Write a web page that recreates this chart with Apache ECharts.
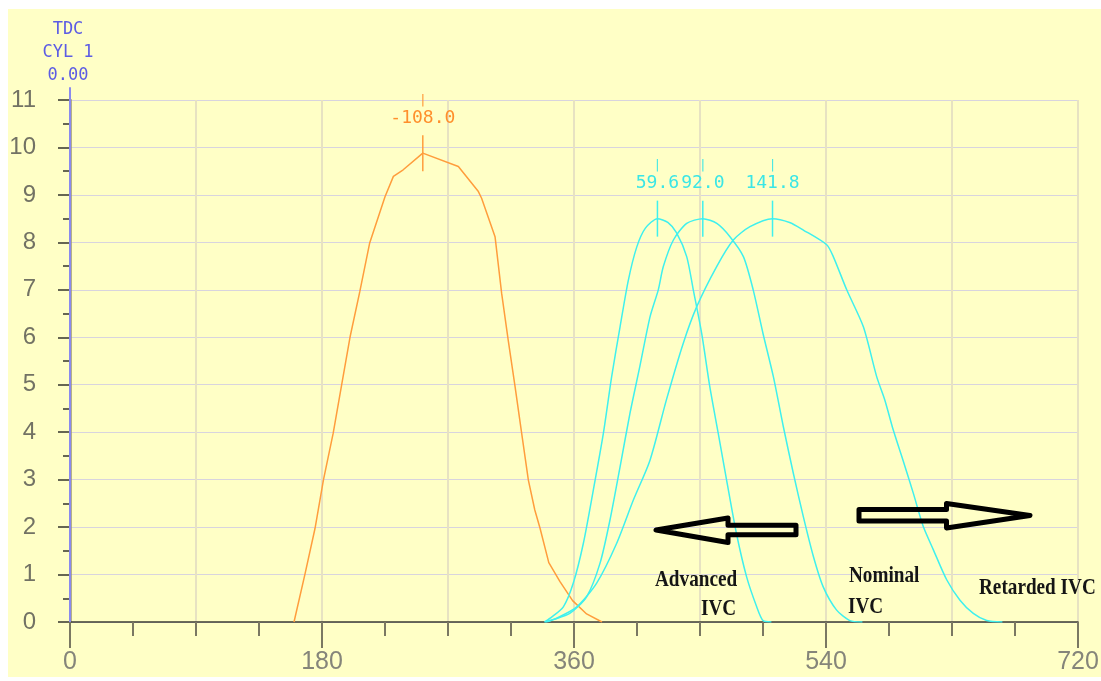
<!DOCTYPE html>
<html>
<head>
<meta charset="utf-8">
<title>Valve lift vs crank angle</title>
<script src="https://cdn.jsdelivr.net/npm/echarts@6/dist/echarts.min.js"></script>
<style>
  html, body { margin: 0; padding: 0; background: #ffffff; }
  #chart { position: absolute; left: 8px; top: 9px; width: 1093px; height: 668px; }
</style>
</head>
<body>
<div id="chart"></div>
<script>
// Crank angle (deg) vs valve lift (mm)
const exhaustLift = [
  [160, 0], [168, 1.03], [175, 1.97], [181, 2.99], [188, 3.98], [194, 4.99],
  [200, 6.0], [207, 6.96], [214, 7.98], [225, 8.96], [231, 9.39], [238, 9.53],
  [252, 9.88], [277.4, 9.6], [291.7, 9.07], [294, 8.93], [303.6, 8.12],
  [308.3, 6.93], [313, 5.94], [317.9, 4.96], [322.6, 3.98], [327.4, 2.99],
  [332, 2.36], [335.7, 1.98], [342, 1.25], [350, 0.85], [359, 0.45],
  [369, 0.17], [380, 0]
];
const advancedLift = [
  [339, 0], [343, 0.08], [352.4, 0.32], [359.5, 0.82], [366.7, 1.66],
  [373.8, 2.78], [381, 3.98], [386.9, 5.17], [392.9, 6.22], [398.8, 7.2],
  [404.8, 7.9], [411, 8.3], [419.6, 8.5], [427, 8.42], [433.3, 8.2],
  [440.5, 7.7], [445.2, 7.0], [451.2, 6.08], [457, 4.96], [463, 3.98],
  [469, 2.99], [476, 1.87], [483.3, 0.95], [490.5, 0.32], [495, 0.03], [501, 0]
];
const nominalLift = [
  [339, 0], [345, 0.05], [357, 0.18], [369, 0.53], [378.6, 1.24], [385.7, 2.15],
  [392.9, 3.27], [400, 4.4], [407, 5.38], [414.3, 6.43], [420.2, 7.0],
  [423.8, 7.49], [431, 8.05], [440.5, 8.4], [452, 8.5], [462, 8.4],
  [471.4, 8.12], [481, 7.7], [488, 7.0], [495, 6.08], [502.4, 5.17],
  [509.5, 4.12], [516.7, 3.13], [523.8, 2.22], [531, 1.38], [538, 0.74],
  [547.6, 0.25], [557, 0.03], [566, 0]
];
const retardedLift = [
  [340, 0], [347.6, 0.08], [362, 0.32], [376.2, 0.82], [390.5, 1.66],
  [402.4, 2.57], [414.3, 3.41], [426, 4.68], [438, 5.87], [447.6, 6.64],
  [461.9, 7.49], [473.8, 8.05], [485.7, 8.33], [501.8, 8.5], [514, 8.42],
  [523.8, 8.26], [540.5, 7.95], [545.2, 7.7], [554.8, 7.0], [566.7, 6.22],
  [576.2, 5.17], [582, 4.68], [588, 4.05], [595, 3.41], [602.4, 2.71],
  [609.5, 2.01], [616.7, 1.52], [626.2, 0.89], [635.7, 0.46], [645.2, 0.18],
  [654.8, 0.03], [666, 0]
];

// Peak positions, stated relative to TDC of cylinder 1
const tdcAngle = 360;
const peakOffsets = [-108.0, 59.6, 92.0, 141.8];
const peakLifts = [9.88, 8.5, 8.5, 8.5];

// TDC marker line and its caption
const tdcMarker = [[0, 0], [0, 11.27]];
const tdcCaption = ['TDC', 'CYL 1', '0.00'];

const xTickStep = 180;
const xGridStep = 90;
const yMax = 11;

const ORANGE = '#ff9d3c';
const ORANGE_TXT = '#ff8f2c';
const CYAN = '#3ff0ee';
const CYAN_TXT = '#3ae6e6';
const MONO = '"DejaVu Sans Mono", monospace';
const SANS = '"Liberation Sans", Arial, sans-serif';

// page -> chart-box coordinates
const OX = 8, OY = 9;

function peakMark(i, color, txtColor) {
  const x = tdcAngle + peakOffsets[i];
  return {
    symbol: 'rect',
    symbolSize: [1.5, 36],
    itemStyle: { color: color },
    label: {
      show: true,
      position: 'top',
      distance: 8,
      formatter: '{b||}\n{v|' + peakOffsets[i].toFixed(1) + '}',
      rich: {
        b: { fontFamily: MONO, fontSize: 12, lineHeight: 17, color: txtColor, align: 'center' },
        v: { fontFamily: MONO, fontSize: 18, lineHeight: 18, color: txtColor, align: 'center' }
      }
    },
    data: [{ coord: [x, peakLifts[i]] }]
  };
}

function liftSeries(name, data, color, idx, txtColor, smooth) {
  return {
    name: name,
    type: 'line',
    data: data,
    symbol: 'none',
    smooth: smooth,
    lineStyle: { color: color, width: 1.5 },
    itemStyle: { color: color },
    z: 5,
    markPoint: peakMark(idx, color, txtColor)
  };
}

function arrowPoints(pts) {
  return pts.map(p => [p[0] - OX, p[1] - OY]);
}

function noteText(text, x, y) {
  return {
    type: 'text',
    x: x - OX,
    y: y - OY,
    scaleX: 0.8,
    z: 20,
    style: {
      text: text,
      font: 'bold 24px "Liberation Serif", "Times New Roman", serif',
      fill: '#151515',
      verticalAlign: 'top',
      textVerticalAlign: 'top'
    }
  };
}

const chart = echarts.init(document.getElementById('chart'), null, { renderer: 'canvas' });

chart.setOption({
  animation: false,
  backgroundColor: '#ffffc6',
  grid: { left: 62, right: 23, top: 91, bottom: 55, outerBoundsMode: 'none', containLabel: false },
  xAxis: [
    {
      type: 'value',
      min: 0,
      max: 720,
      interval: xTickStep,
      axisLine: { show: true, onZero: false, lineStyle: { color: '#3c3c32', width: 1.5 } },
      axisTick: { show: true, length: 26, lineStyle: { color: '#7a7862', width: 2 } },
      minorTick: { show: true, splitNumber: 4, length: 14, lineStyle: { color: '#7a7862', width: 2 } },
      axisLabel: { color: '#85857a', fontFamily: SANS, fontSize: 25, margin: 28 },
      splitLine: { show: false }
    },
    {
      type: 'value',
      min: 0,
      max: 720,
      interval: xGridStep,
      position: 'bottom',
      axisLine: { show: false },
      axisTick: { show: false },
      axisLabel: { show: false },
      splitLine: { show: true, lineStyle: { color: '#e7e2c2', width: 2 } }
    }
  ],
  yAxis: {
    type: 'value',
    min: 0,
    max: yMax,
    interval: 1,
    offset: 12,
    axisLine: { show: true, lineStyle: { color: '#9c9770', width: 2.5 } },
    axisTick: { show: true, length: 12, lineStyle: { color: '#35352c', width: 1.5 } },
    minorTick: { show: true, splitNumber: 2, length: 7, lineStyle: { color: '#35352c', width: 1.5 } },
    axisLabel: { color: '#727264', fontFamily: SANS, fontSize: 24, margin: 22 },
    splitLine: { show: true, lineStyle: { color: '#d8d4de', width: 1.2 } }
  },
  series: [
    {
      name: 'TDC',
      type: 'line',
      data: tdcMarker,
      symbol: 'none',
      clip: false,
      lineStyle: { color: '#8a8aee', width: 2 },
      z: 4,
      markPoint: {
        symbol: 'circle',
        symbolSize: 0,
        label: {
          show: true,
          position: 'top',
          distance: 13,
          offset: [-2, 0],
          formatter: tdcCaption.join('\n'),
          fontFamily: MONO,
          fontSize: 17,
          lineHeight: 23,
          color: '#5c5ce4',
          align: 'center'
        },
        data: [{ coord: [0, yMax] }]
      }
    },
    liftSeries('Exhaust', exhaustLift, ORANGE, 0, ORANGE_TXT, false),
    liftSeries('Advanced IVC', advancedLift, CYAN, 1, CYAN_TXT, 0.25),
    liftSeries('Nominal IVC', nominalLift, CYAN, 2, CYAN_TXT, 0.25),
    liftSeries('Retarded IVC', retardedLift, CYAN, 3, CYAN_TXT, 0.25)
  ],
  graphic: [
    {
      type: 'polygon',
      z: 20,
      shape: { points: arrowPoints([[656, 530], [728, 518], [728, 525.3], [796, 525.3], [796, 534.7], [728, 534.7], [728, 542.5]]) },
      style: { fill: 'none', stroke: '#000000', lineWidth: 5, lineJoin: 'round' }
    },
    {
      type: 'polygon',
      z: 20,
      shape: { points: arrowPoints([[859, 509.5], [946.5, 509.5], [946.5, 503.5], [1030, 515.5], [946.5, 528], [946.5, 521], [859, 521]]) },
      style: { fill: 'none', stroke: '#000000', lineWidth: 5, lineJoin: 'round' }
    },
    noteText('Advanced', 655, 568),
    noteText('IVC', 701, 597),
    noteText('Nominal', 849, 564),
    noteText('IVC', 848, 595),
    noteText('Retarded IVC', 979, 576)
  ]
});
</script>
</body>
</html>
